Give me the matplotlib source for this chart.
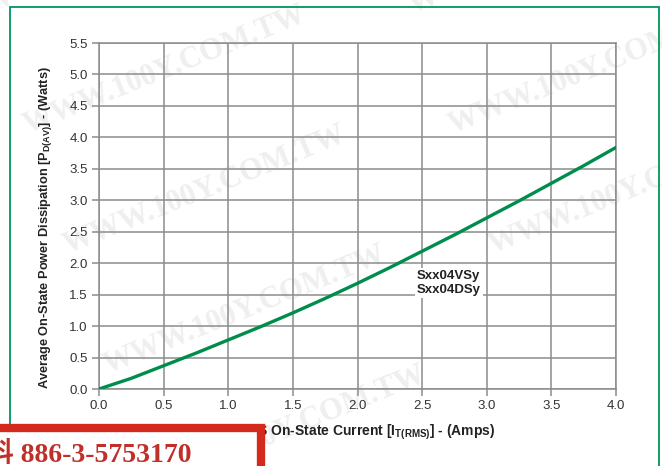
import matplotlib
matplotlib.use('Agg')
import matplotlib.pyplot as plt
from matplotlib.patches import Rectangle

# values
current = [0.0, 0.25, 0.5, 0.75, 1.0, 1.25, 1.5, 1.75, 2.0, 2.25, 2.5, 2.75, 3.0, 3.25, 3.5, 3.75, 4.0]
power = [0.0, 0.17, 0.37, 0.57, 0.78, 0.99, 1.21, 1.44, 1.68, 1.93, 2.19, 2.45, 2.72, 2.99, 3.27, 3.55, 3.84]
xticks = [0.0, 0.5, 1.0, 1.5, 2.0, 2.5, 3.0, 3.5, 4.0]
yticks = [0.0, 0.5, 1.0, 1.5, 2.0, 2.5, 3.0, 3.5, 4.0, 4.5, 5.0, 5.5]
part_label = 'Sxx04VSy\nSxx04DSy'
watermark = 'WWW.100Y.COM.TW'
phone = '料 886-3-5753170'

plt.rcParams['font.family'] = ['Liberation Sans', 'DejaVu Sans']
plt.rcParams['mathtext.fontset'] = 'custom'
plt.rcParams['mathtext.rm'] = 'Liberation Sans:bold'

W, H = 662, 466
fig = plt.figure(figsize=(W/100, H/100), dpi=100)
ax = fig.add_axes([99/W, 1-389/H, (616-99)/W, (389-43)/H])
ax.patch.set_alpha(0)

# watermark behind everything
wm_pos = [(165, 70), (590, 70), (205, 190), (630, 190), (245, 310), (125, -50), (550, -50), (285, 430)]
for px, py in wm_pos:
    fig.text(px/W, 1-py/H, watermark, rotation=22, ha='center', va='center',
             fontsize=22, fontweight='bold', family='Liberation Serif',
             color='#efefef', zorder=-5)

gc = '#8c8c8c'
ax.plot(current, power, color='#008c4c', lw=2.4, zorder=3, solid_capstyle='round')
ax.set_xlim(0, 4)
ax.set_ylim(0, 5.5)
ax.set_xticks(xticks)
ax.set_yticks(yticks)
ax.set_xticklabels(['%.1f' % v for v in xticks])
ax.set_yticklabels(['%.1f' % v for v in yticks])
ax.grid(True, color=gc, lw=1.1)
ax.set_axisbelow(True)
for s in ax.spines.values():
    s.set_color(gc)
    s.set_linewidth(1.1)
ax.tick_params(direction='out', length=5, width=1.1, color=gc,
               labelsize=9.5, labelcolor='#333333', pad=3)

ax.set_xlabel('RMS On-State Current [I$_{\\mathregular{T(RMS)}}$] - (Amps)',
              fontsize=10, fontweight='bold', color='#222222')
ax.xaxis.set_label_coords(0.516, -0.098)
ax.set_ylabel('Average On-State Power Dissipation [P$_{\\mathregular{D(AV)}}$] - (Watts)',
              fontsize=9.2, fontweight='bold', color='#222222')
ax.yaxis.set_label_coords(-0.088, 0.465)

ax.text(2.46, 1.69, part_label, fontsize=9.5, fontweight='bold', color='#222222',
        ha='left', va='center', linespacing=1.2, zorder=4,
        bbox=dict(facecolor='white', edgecolor='none', pad=1.5))

# green frame
fig.patches.append(Rectangle((10/W, -0.05), (659-10)/W, 1.05-7/H, transform=fig.transFigure,
                             fill=False, edgecolor='#00955a', lw=1.3, zorder=5))

# red phone box
fig.patches.append(Rectangle((-8/W, -0.05), 269/W, 0.05+(466-428)/H, transform=fig.transFigure,
                             facecolor='white', edgecolor='#d42a1e', lw=6, zorder=6))
fig.text(-14/W, 1-455/H, phone, fontsize=20, fontweight='bold', color='#c0302a',
         family=['Liberation Serif', 'Noto Sans CJK SC'], ha='left', va='center', zorder=7)

fig.savefig('out.png', dpi=100)
